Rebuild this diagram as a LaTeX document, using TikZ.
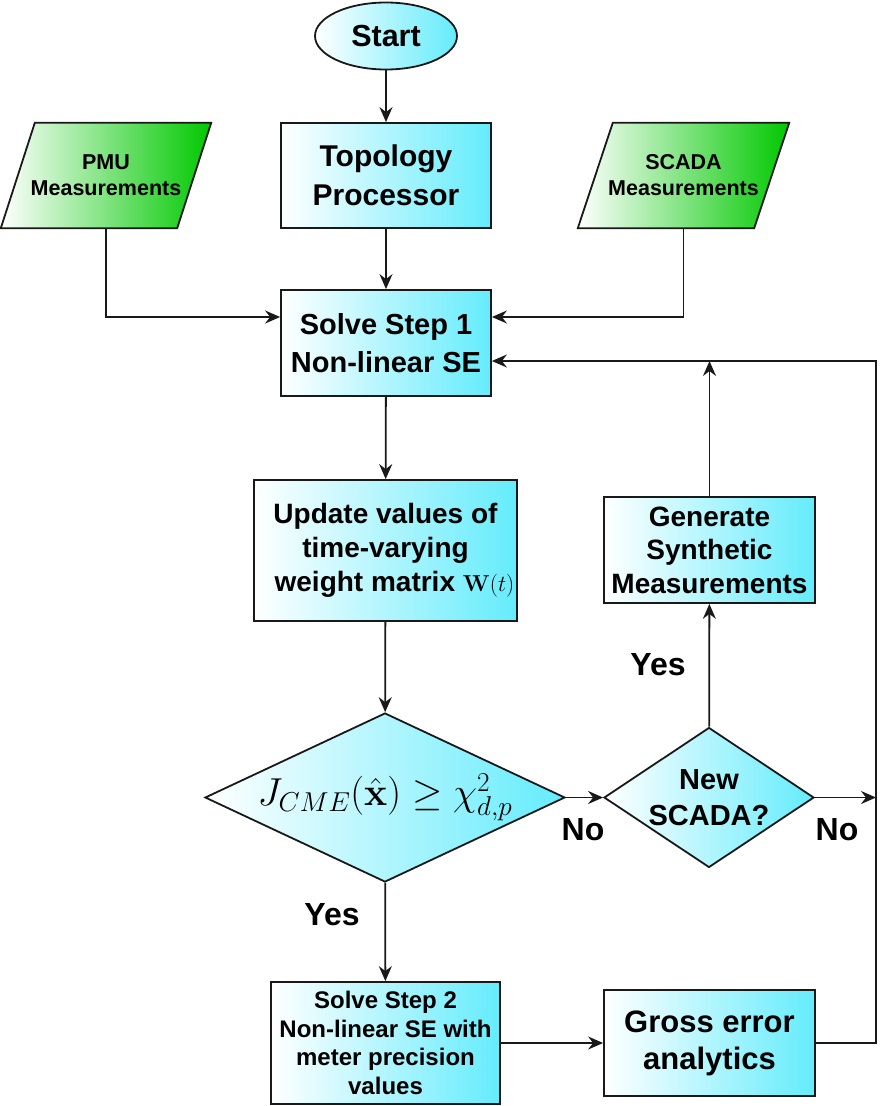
\RequirePackage{fix-cm}
\documentclass[tikz,border=0pt]{standalone}
\usepackage[no-math]{fontspec}
\setmainfont{Liberation Sans}
\usetikzlibrary{shapes.geometric,arrows.meta,backgrounds}
\definecolor{cyR}{RGB}{100,236,252}
\definecolor{grR}{RGB}{0,200,0}
\definecolor{edge}{RGB}{25,25,25}
\begin{document}
\begin{tikzpicture}[x=1pt,y=-1pt,
  box/.style={draw=edge, line width=1.8pt, left color=white, right color=cyR, align=center, inner sep=2pt},
  io/.style={rectangle, align=center, font=\bfseries\fontsize{21.5}{26}\selectfont,
     minimum height=105pt, minimum width=210pt, inner sep=0pt},
  iofill/.style={draw=edge, line width=1.8pt, left color=white, right color=grR, line join=miter},
  dec/.style={diamond, draw=edge, line width=1.8pt, left color=white, right color=cyR, align=center, inner sep=0pt},
  arr/.style={-{Stealth[length=15pt,width=13pt,inset=5pt]}, line width=1.8pt, draw=edge},
  lab/.style={font=\bfseries\fontsize{32}{38}\selectfont, inner sep=0pt}
]
\useasboundingbox (0,0) rectangle (889,1106);

\node[ellipse, draw=edge, line width=1.8pt, left color=white, right color=cyR, minimum width=142pt, minimum height=67pt, font=\bfseries\fontsize{30.5}{36}\selectfont] (start) at (386,36) {Start};
\node[box, minimum width=210pt, minimum height=105pt, font=\bfseries\fontsize{30}{39}\selectfont] (topo) at (386,175.5) {Topology\\Processor};
\node[io] (pmu) at (106,175.5) {PMU\\Measurements};
\node[io, minimum width=211pt] (scada) at (683.5,175.5) {SCADA\\Measurements};
\begin{scope}[on background layer]
  \path[iofill] ([xshift=34pt]pmu.north west) -- (pmu.north east) -- ([xshift=-34pt]pmu.south east) -- (pmu.south west) -- cycle;
  \path[iofill] ([xshift=35pt]scada.north west) -- (scada.north east) -- ([xshift=-35pt]scada.south east) -- (scada.south west) -- cycle;
\end{scope}
\node[box, minimum width=210pt, minimum height=106pt, font=\bfseries\fontsize{29}{37.5}\selectfont] (step1) at (386,343) {Solve Step 1\\Non-linear SE};
\node[box, minimum width=263pt, minimum height=141pt, font=\bfseries\fontsize{28}{34}\selectfont] (upd) at (385.5,550.5) {Update values of\\time-varying\\\hspace*{18pt}weight matrix {\fontsize{23}{28}\selectfont$\mathbf{W}(t)$}};
\node[dec, aspect=2.13, minimum width=360pt, minimum height=169pt, font=\fontsize{39}{44}\selectfont] (d1) at (385,797.5) {$J_{CME}(\hat{\mathbf{x}})\geq\chi^2_{d,p}$};
\node[dec, aspect=1.5, minimum width=210pt, minimum height=140pt, font=\bfseries\fontsize{29}{36}\selectfont] (d2) at (709,797.5) {New\\SCADA?};
\node[box, minimum width=211pt, minimum height=106pt, font=\bfseries\fontsize{28}{33.5}\selectfont] (gen) at (709.5,550) {Generate\\Synthetic\\Measurements};
\node[box, minimum width=229pt, minimum height=122pt, font=\bfseries\fontsize{24}{28.7}\selectfont] (step2) at (385.5,1043) {Solve Step 2\\Non-linear SE with\\meter precision\\values};
\node[box, minimum width=211pt, minimum height=106pt, font=\bfseries\fontsize{31}{37}\selectfont] (gross) at (709.5,1043) {Gross error\\analytics};

\coordinate (fb) at (876,361);
\coordinate (nr) at (876,797.5);
\coordinate (br) at (876,1043);

\draw[arr] (start) -- (topo);
\draw[arr] (topo) -- (step1);
\draw[arr] (pmu.south) |- ([yshift=26pt]step1.west);
\draw[arr] (scada.south) |- ([yshift=26pt]step1.east);
\draw[arr] (step1) -- (upd);
\draw[arr] (upd) -- (d1);
\draw[arr] (d1) -- (d2);
\draw[arr] (d1) -- (step2);
\draw[arr] (d2) -- (gen);
\draw[arr] (gen.north) -- (gen.north |- fb);
\draw[arr] (d2.east) -- (nr);
\draw[arr] (step2) -- (gross);
\draw[arr] (gross.east) -- (br) -- (fb) -- (fb -| step1.east);

\node[lab] (no1) at (583,830) {No};
\node[lab] (no2) at (837,830) {No};
\node[lab] (yes1) at (332,915) {Yes};
\node[lab] (yes2) at (658,665) {Yes};
\end{tikzpicture}
\end{document}
